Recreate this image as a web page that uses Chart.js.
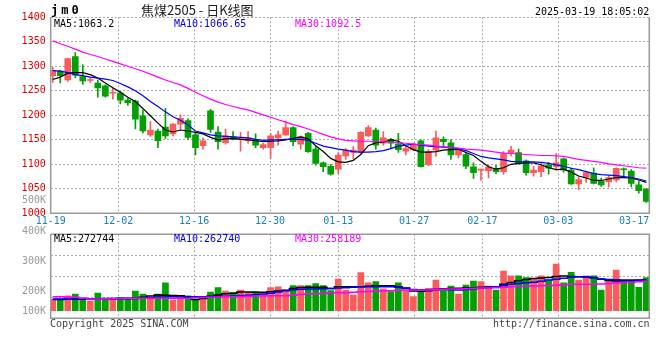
<!DOCTYPE html>
<html lang="zh">
<head>
  <meta charset="UTF-8" />
  <title>焦煤2505 - 日K线图</title>
  <script src="https://cdn.jsdelivr.net/npm/chart.js"></script>
  <style>
    body { margin: 0; background: #fff; }
    #stage { position: relative; width: 660px; height: 360px; overflow: hidden;
             font-family: "DejaVu Sans Mono", monospace; font-size: 10px; }
    canvas { position: absolute; left: 0; }
    #price-chart { top: 0; }
    #vol-chart { top: 232px; }
    .t { position: absolute; white-space: nowrap; line-height: 12px; }
    .grey { color: #999; }
  </style>
</head>
<body>
<div id="stage">
  <canvas id="price-chart" width="660" height="232"></canvas>
  <canvas id="vol-chart" width="660" height="88"></canvas>

  <div class="t" style="left:51px;top:4px;font-weight:bold;font-size:12px;letter-spacing:3px;">jm0</div>
  <div class="t" style="left:141px;top:2px;font-family:'Noto Sans CJK SC';font-size:13px;line-height:16px;color:#222;">焦煤2505 - 日K线图</div>
  <div class="t" style="left:535px;top:6px;color:#000;">2025-03-19 18:05:02</div>

  <div class="t" style="left:54px;top:18px;color:#000;">MA5:1063.2</div>
  <div class="t" style="left:174px;top:18px;color:#0000ee;">MA10:1066.65</div>
  <div class="t" style="left:295px;top:18px;color:#ff00ff;">MA30:1092.5</div>

  <div class="t grey" style="left:22px;top:194px;">500K</div>
  <div class="t grey" style="left:22px;top:225px;">400K</div>
  <div class="t grey" style="left:22px;top:255px;">300K</div>
  <div class="t grey" style="left:22px;top:285px;">200K</div>
  <div class="t grey" style="left:22px;top:305px;">100K</div>

  <div class="t" style="left:54px;top:233px;color:#000;">MA5:272744</div>
  <div class="t" style="left:174px;top:233px;color:#0000ee;">MA10:262740</div>
  <div class="t" style="left:295px;top:233px;color:#ff00ff;">MA30:258189</div>

  <div class="t" style="left:50px;top:318px;color:#444;">Copyright 2025 SINA.COM</div>
  <div class="t" style="left:493px;top:318px;color:#444;">http://finance.sina.com.cn</div>
</div>

<script>
  // date labels and the trading-day index each one belongs to
  const DATE_LABELS = ["11-19", "12-02", "12-16", "12-30", "01-13", "01-27", "02-17", "03-03", "03-17"];
  const LABEL_DAYS = [0, 9, 19, 29, 38, 48, 57, 67, 77];

  const OPEN = [1281,1290,1272,1320,1279,1271,1266,1260,1245,1246,
                1231,1229,1199,1160,1168,1176,1162,1182,1189,1160,
                1138,1209,1166,1144,1156,1151,1148,1151,1134,1134,
                1154,1160,1175,1141,1163,1131,1103,1096,1090,1117,
                1124,1124,1158,1170,1143,1151,1142,1127,1130,1148,
                1099,1129,1151,1144,1119,1120,1095,1088,1087,1092,
                1085,1122,1124,1107,1083,1085,1099,1095,1111,1088,
                1060,1073,1082,1066,1064,1068,1091,1086,1058,1049];
  const HIGH = [1298,1292,1317,1328,1303,1277,1272,1262,1256,1249,
                1235,1231,1211,1187,1172,1214,1183,1201,1193,1163,
                1154,1212,1177,1172,1167,1165,1167,1162,1143,1163,
                1168,1188,1177,1158,1165,1136,1105,1100,1124,1132,
                1136,1167,1179,1174,1167,1153,1163,1137,1143,1150,
                1130,1168,1156,1150,1132,1124,1103,1090,1098,1098,
                1126,1137,1131,1109,1096,1102,1104,1122,1113,1093,
                1075,1085,1093,1072,1076,1093,1093,1089,1065,1051];
  const LOW = [1267,1266,1269,1277,1263,1267,1237,1237,1233,1223,
               1220,1172,1164,1157,1134,1153,1158,1171,1151,1119,
               1131,1165,1131,1141,1150,1127,1143,1134,1131,1112,
               1139,1159,1138,1131,1124,1098,1085,1078,1081,1110,
               1111,1122,1157,1131,1139,1133,1124,1119,1128,1094,
               1097,1116,1137,1110,1113,1091,1071,1067,1072,1081,
               1080,1117,1100,1078,1076,1075,1080,1088,1084,1059,
               1048,1063,1060,1055,1054,1064,1075,1054,1041,1022];
  const CLOSE = [1292,1281,1316,1282,1270,1273,1256,1239,1247,1231,
                 1226,1192,1168,1170,1148,1158,1182,1194,1155,1134,
                 1148,1171,1146,1158,1151,1153,1154,1139,1140,1158,
                 1160,1175,1146,1156,1126,1102,1095,1080,1119,1129,
                 1129,1165,1175,1139,1154,1143,1130,1132,1139,1095,
                 1126,1154,1146,1119,1129,1096,1083,1090,1095,1085,
                 1122,1129,1102,1083,1088,1097,1092,1103,1088,1060,
                 1069,1083,1061,1058,1073,1092,1089,1061,1046,1024];

  const MA5 = [1273,1278,1286,1287,1287,1283,1276,1266,1256,1247,
               1237,1228,1214,1199,1184,1170,1166,1170,1168,1165,
               1162,1155,1150,1152,1153,1151,1150,1148,1146,1147,
               1148,1150,1153,1156,1152,1138,1126,1112,1105,1104,
               1108,1120,1138,1144,1145,1150,1147,1138,1130,1125,
               1125,1126,1129,1130,1131,1124,1118,1106,1095,1090,
               1093,1100,1102,1103,1103,1099,1093,1089,1090,1084,
               1076,1072,1067,1067,1070,1073,1073,1072,1068,1063];
  const MA10 = [1291,1290,1287,1283,1281,1278,1276,1274,1271,1265,
                1258,1250,1240,1228,1218,1207,1197,1190,1180,1168,
                1164,1160,1158,1157,1156,1155,1154,1151,1149,1150,
                1150,1151,1151,1151,1149,1143,1137,1134,1131,1129,
                1126,1125,1125,1126,1128,1132,1137,1139,1141,1139,
                1137,1136,1135,1134,1132,1128,1122,1116,1113,1111,
                1109,1106,1105,1105,1105,1104,1102,1099,1096,1092,
                1089,1085,1081,1079,1078,1077,1075,1073,1070,1066];
  const MA30 = [1352,1346,1341,1335,1329,1324,1320,1315,1310,1305,
                1300,1295,1290,1284,1278,1272,1267,1262,1255,1247,
                1240,1233,1227,1222,1218,1214,1211,1206,1201,1196,
                1191,1186,1181,1177,1172,1167,1161,1156,1152,1149,
                1148,1147,1147,1146,1146,1145,1144,1143,1141,1140,
                1139,1137,1136,1134,1133,1131,1130,1129,1127,1125,
                1123,1122,1121,1120,1119,1118,1118,1117,1116,1113,
                1110,1108,1106,1104,1101,1099,1097,1095,1093,1092];

  // volume in thousands of lots
  const VOLUME = [97,91,126,143,100,83,151,91,100,115,
                  97,168,143,111,143,239,91,120,126,97,
                  106,160,197,168,154,177,154,163,143,197,
                  205,177,214,214,214,231,214,171,271,177,
                  134,325,239,248,186,163,239,177,120,157,
                  192,262,177,211,143,220,254,248,211,177,
                  339,297,297,282,271,297,262,399,239,328,
                  262,297,297,177,254,348,262,262,200,282];
  const VOL_MA5 = [95,95,97,98,100,102,103,104,104,105,
                   106,106,115,125,134,132,130,128,110,95,
                   105,124,135,145,150,160,160,158,157,162,
                   168,175,190,198,200,200,200,190,205,205,
                   205,205,210,214,214,214,205,192,168,166,
                   171,180,186,189,192,195,197,200,203,205,
                   225,240,255,266,275,280,283,292,296,292,
                   290,287,284,268,258,254,256,257,260,265];
  const VOL_MA10 = [100,100,100,100,100,100,101,101,102,102,
                    103,104,106,110,116,118,119,120,120,120,
                    120,120,121,123,126,129,133,137,142,150,
                    160,170,178,183,186,186,187,190,194,197,
                    200,204,205,205,205,205,200,193,182,178,
                    180,184,183,178,177,182,188,193,198,205,
                    214,225,232,238,243,252,262,268,278,285,
                    290,289,280,270,267,265,263,262,262,263];
  const VOL_MA30 = [120,119,117,115,108,100,100,102,104,105,
                    106,106,106,106,106,106,106,106,107,110,
                    113,115,117,119,120,121,123,125,126,127,
                    128,128,132,138,143,145,148,154,154,154,
                    158,163,165,167,169,171,174,177,177,177,
                    177,179,182,185,186,188,191,193,195,197,
                    201,205,207,209,211,213,215,218,222,226,
                    226,226,226,228,232,236,240,244,248,252];

  const RED = "#fb5b5b";
  const GREEN = "#02a002";
  const GRID = "#aaaaaa";
  const FRAME = "#999999";
  const MONO = "DejaVu Sans Mono";

  const X_MIN = -0.27;
  const X_MAX = 79.4;
  // the site spaces its date grid slightly wider than the candles
  const tickPos = d => Math.max(X_MIN, d * 1.0096 - 0.36);

  const candleColors = CLOSE.map((c, i) => (c >= OPEN[i] ? RED : GREEN));
  const pts = arr => arr.map((v, i) => ({ x: i, y: v }));

  Chart.defaults.font.family = MONO;
  Chart.defaults.font.size = 10;

  const framePlugin = {
    id: "frame",
    afterDraw(chart, args, opts) {
      const { ctx, chartArea: a } = chart;
      ctx.save();
      ctx.strokeStyle = FRAME;
      ctx.lineWidth = 1.5;
      ctx.beginPath();
      ctx.moveTo(a.left, a.top);
      ctx.lineTo(a.left, a.bottom);
      ctx.lineTo(a.right, a.bottom);
      ctx.lineTo(a.right, a.top);
      if (opts.top) ctx.lineTo(a.left, a.top);
      ctx.stroke();
      ctx.restore();
    }
  };

  function xScale(showLabels, height) {
    return {
      type: "linear",
      min: X_MIN,
      max: X_MAX,
      offset: false,
      afterBuildTicks: s => { s.ticks = LABEL_DAYS.map(d => ({ value: tickPos(d) })); },
      afterFit: s => { s.height = height; },
      grid: {
        offset: false,
        drawTicks: false,
        lineWidth: 1,
        color: c => (c.index === LABEL_DAYS.length - 1 ? "rgba(0,0,0,0)" : GRID)
      },
      border: { display: false, dash: [2, 2] },
      ticks: {
        display: showLabels,
        color: "#1a80c4",
        font: { family: MONO, size: 10 },
        padding: 2,
        autoSkip: false,
        maxRotation: 0,
        minRotation: 0,
        callback: (v, i) => DATE_LABELS[i]
      }
    };
  }

  const lineSet = (arr, color, width, stepped) => ({
    type: "line",
    data: pts(arr),
    borderColor: color,
    borderWidth: width,
    pointRadius: 0,
    tension: 0,
    stepped: stepped,
    order: 0
  });

  new Chart(document.getElementById("price-chart"), {
    type: "bar",
    data: {
      datasets: [
        lineSet(MA30, "#ff00ff", 1.2, false),
        lineSet(MA10, "#0000ff", 1.2, false),
        lineSet(MA5, "#000000", 1.2, false),
        {
          data: CLOSE.map((c, i) => ({ x: i, y: [LOW[i], HIGH[i]] })),
          backgroundColor: candleColors,
          barThickness: 1,
          grouped: false,
          order: 3
        },
        {
          data: CLOSE.map((c, i) => ({ x: i, y: [OPEN[i], c] })),
          backgroundColor: candleColors,
          barThickness: 6,
          grouped: false,
          order: 2
        }
      ]
    },
    options: {
      responsive: false,
      animation: false,
      layout: { padding: { top: 17.3, right: 10.7, left: 0, bottom: 0 } },
      plugins: { legend: { display: false }, tooltip: { enabled: false }, frame: { top: false } },
      scales: {
        x: xScale(true, 18.7),
        y: {
          min: 1000,
          max: 1400,
          afterFit: s => { s.width = 50.7; },
          ticks: {
            stepSize: 50,
            color: "#e00000",
            font: { family: MONO, size: 10 },
            padding: 5,
            callback: v => String(v)
          },
          grid: { color: GRID, drawTicks: false, lineWidth: 1 },
          border: { display: false, dash: [2, 2] }
        }
      }
    },
    plugins: [framePlugin]
  });

  const V_MIN = -65;
  const V_MAX = 653;

  new Chart(document.getElementById("vol-chart"), {
    type: "bar",
    data: {
      datasets: [
        lineSet(VOL_MA30, "#ff00ff", 1.5, "middle"),
        lineSet(VOL_MA10, "#0000ff", 1.5, "middle"),
        lineSet(VOL_MA5, "#000000", 1.5, "middle"),
        {
          data: pts(VOLUME),
          backgroundColor: candleColors,
          barThickness: 6,
          grouped: false,
          order: 2
        }
      ]
    },
    options: {
      responsive: false,
      animation: false,
      layout: { padding: { top: 2.3, right: 10.7, left: 0, bottom: 0 } },
      plugins: { legend: { display: false }, tooltip: { enabled: false }, frame: { top: true } },
      scales: {
        x: xScale(false, 1.7),
        y: {
          min: V_MIN,
          max: V_MAX,
          afterBuildTicks: s => {
            s.ticks = [0, 1, 2, 3, 4].map(k => ({ value: V_MIN + k * (V_MAX - V_MIN) / 4 }));
          },
          afterFit: s => { s.width = 50.7; },
          ticks: { display: false },
          grid: { color: GRID, drawTicks: false, lineWidth: 1 },
          border: { display: false, dash: [2, 2] }
        }
      }
    },
    plugins: [framePlugin]
  });
</script>
</body>
</html>
